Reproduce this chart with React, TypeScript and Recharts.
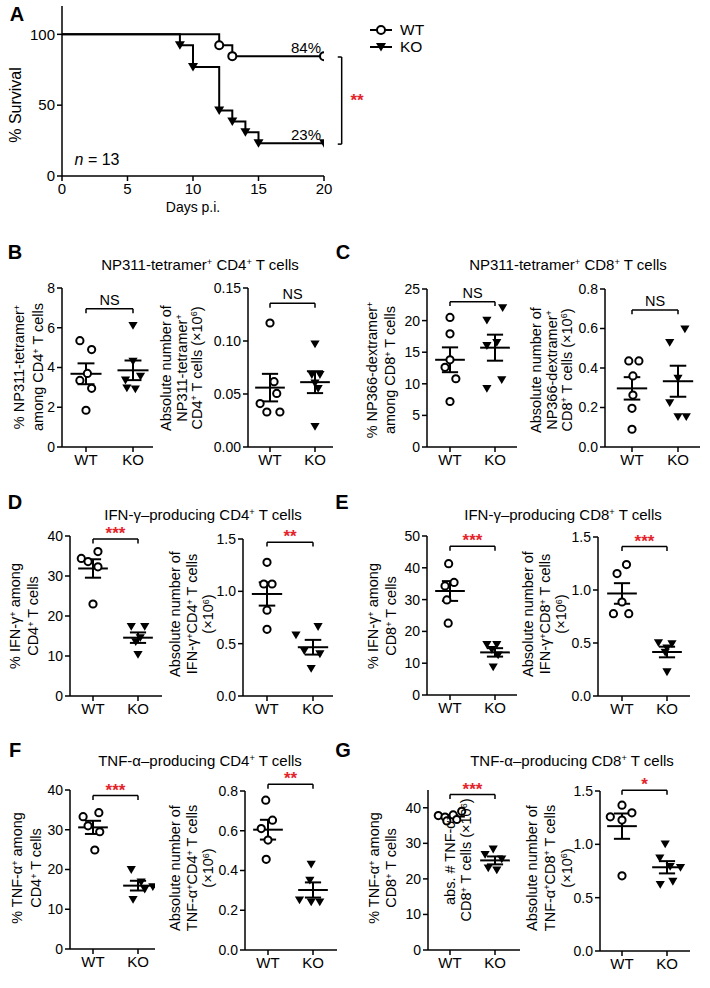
import React from 'react'
import { LineChart, Line, ScatterChart, Scatter, XAxis, YAxis, ReferenceLine } from 'recharts'

const FONT = '"Liberation Sans", Arial, Helvetica, sans-serif'
const RED = '#e3242b'

type Pt = [number, number]

// A: survival
const wtDays = [0, 12, 13, 20]
const wtSurvival = [100, 92.3, 84.6, 84.6]
const koDays = [0, 9, 10, 12, 13, 14, 15, 20]
const koSurvival = [100, 92.3, 76.9, 46.2, 38.5, 30.8, 23.1, 23.1]
const dayTicks = [0, 5, 10, 15, 20]
const survivalTicks = [0, 50, 100]

const groupLabels = ['WT', 'KO']

// B: NP311-tetramer+ CD4+  ([x with jitter, value])
const bPctWT: Pt[] = [[0.87, 5.35], [1.12, 4.9], [1.03, 3.7], [0.87, 3.35], [1.12, 2.95], [1.0, 1.85]]
const bPctKO: Pt[] = [[2.0, 6.1], [2.0, 4.3], [2.16, 3.55], [1.84, 3.35], [1.87, 2.95], [2.05, 2.9]]
const bAbsWT: Pt[] = [[1.0, 0.117], [1.09, 0.0616], [1.15, 0.0505], [0.78, 0.041], [0.93, 0.033], [1.22, 0.033]]
const bAbsKO: Pt[] = [[2.0, 0.097], [1.93, 0.068], [2.11, 0.068], [2.0, 0.06], [2.07, 0.055], [2.0, 0.019]]

// C: NP366-dextramer+ CD8+
const cPctWT: Pt[] = [[1.0, 20.5], [1.0, 17.9], [0.89, 12.6], [1.0, 13.8], [1.13, 10.8], [1.0, 7.2]]
const cPctKO: Pt[] = [[2.17, 22.0], [1.82, 20.0], [2.04, 16.5], [1.82, 16.0], [2.15, 10.6], [1.82, 9.2]]
const cAbsWT: Pt[] = [[0.93, 0.436], [1.15, 0.436], [1.02, 0.36], [1.02, 0.263], [1.0, 0.196], [1.0, 0.09]]
const cAbsKO: Pt[] = [[2.15, 0.596], [1.82, 0.528], [2.0, 0.347], [1.82, 0.223], [2.0, 0.152], [2.18, 0.152]]

// D: IFN-g CD4+
const dPctWT: Pt[] = [[0.74, 34.4], [1.11, 36.1], [0.89, 33.6], [1.11, 32.3], [1.0, 23.0]]
const dPctKO: Pt[] = [[1.85, 17.3], [2.15, 17.3], [2.05, 14.5], [1.95, 13.5], [2.0, 10.3]]
const dAbsWT: Pt[] = [[1.0, 1.277], [0.93, 1.07], [1.11, 1.07], [1.0, 0.82], [1.0, 0.637]]
const dAbsKO: Pt[] = [[1.63, 0.58], [2.11, 0.66], [1.81, 0.43], [2.15, 0.4], [1.96, 0.26]]

// E: IFN-g CD8+
const ePctWT: Pt[] = [[0.97, 41.3], [1.09, 35.4], [0.89, 34.3], [0.93, 29.9], [0.96, 22.6]]
const ePctKO: Pt[] = [[1.82, 15.8], [2.04, 15.8], [1.93, 14.2], [2.07, 12.5], [1.96, 8.7]]
const eAbsWT: Pt[] = [[1.1, 1.24], [0.89, 1.155], [1.0, 0.887], [0.81, 0.777], [1.15, 0.777]]
const eAbsKO: Pt[] = [[1.81, 0.5], [2.11, 0.49], [2.0, 0.45], [1.96, 0.41], [2.0, 0.225]]

// F: TNF-a CD4+
const fPctWT: Pt[] = [[0.78, 33.3], [1.13, 34.3], [0.89, 31.0], [1.15, 29.5], [1.04, 24.9]]
const fPctKO: Pt[] = [[1.85, 19.9], [2.07, 16.8], [2.33, 15.6], [2.15, 15.0], [1.89, 12.4]]
const fAbsWT: Pt[] = [[0.95, 0.754], [1.1, 0.653], [0.85, 0.611], [1.0, 0.553], [0.96, 0.456]]
const fAbsKO: Pt[] = [[1.96, 0.43], [1.93, 0.35], [1.7, 0.25], [1.96, 0.24], [2.15, 0.24]]

// G: TNF-a CD8+
const gPctWT: Pt[] = [[0.74, 37.8], [0.89, 37.4], [1.07, 38.0], [1.26, 39.0], [0.93, 36.3], [1.15, 36.7]]
const gPctKO: Pt[] = [[1.96, 28.3], [1.78, 26.8], [2.15, 25.5], [1.85, 23.0], [2.04, 22.4]]
const gAbsWT: Pt[] = [[1.0, 1.367], [1.22, 1.295], [0.74, 1.258], [1.0, 1.227], [1.0, 0.705]]
const gAbsKO: Pt[] = [[1.96, 1.0], [1.84, 0.87], [2.07, 0.79], [2.3, 0.78], [1.85, 0.62], [2.13, 0.65]]

const mean = (v: number[]) => v.reduce((a, b) => a + b, 0) / v.length
const sem = (v: number[]) => {
  const m = mean(v)
  const sd = Math.sqrt(v.reduce((a, b) => a + (b - m) ** 2, 0) / (v.length - 1))
  return sd / Math.sqrt(v.length)
}

// "^+" / "^6" -> superscript
function rt(s: string) {
  const parts = s.split(/\^(.)/)
  return parts.map((p, i) =>
    i % 2 === 1 ? (
      <sup key={i} style={{ fontSize: '0.62em', verticalAlign: '0.5em', lineHeight: 0 }}>{p}</sup>
    ) : (
      <React.Fragment key={i}>{p}</React.Fragment>
    )
  )
}

function Txt({ x, y, children, size = 15, color = '#000', weight = 400, italic = false }: any) {
  return (
    <div style={{ position: 'absolute', left: x, top: y, transform: 'translate(-50%,-50%)', whiteSpace: 'nowrap', fontSize: size, color, fontWeight: weight, fontStyle: italic ? 'italic' : 'normal', lineHeight: 1 }}>
      {children}
    </div>
  )
}

function VLabel({ x, y, lines, size = 14.5, lh = 17 }: { x: number; y: number; lines: string[]; size?: number; lh?: number }) {
  return (
    <div style={{ position: 'absolute', left: x, top: y, transform: 'translate(-50%,-50%) rotate(-90deg)', whiteSpace: 'nowrap', textAlign: 'center', fontSize: size, lineHeight: `${lh}px` }}>
      {lines.map((l, i) => <div key={i}>{rt(l)}</div>)}
    </div>
  )
}

const axisStyle = { stroke: '#000', strokeWidth: 1.5 }
const tickStyle = { fill: '#000', fontSize: 14, fontFamily: FONT }

const circleShape = (props: any) => (
  <circle cx={props.cx} cy={props.cy} r={3.6} fill="#fff" stroke="#000" strokeWidth={2} />
)
const triangleShape = (props: any) => {
  const { cx, cy } = props
  const s = 4.6
  return <path d={`M${cx - s},${cy - 3.8}L${cx + s},${cy - 3.8}L${cx},${cy + 4}Z`} fill="#000" />
}

interface DotPlotProps {
  wt: Pt[]
  ko: Pt[]
  max: number
  ticks: number[]
  decimals: number
  axisX: number
  axisEnd: number
  wtX: number
  koX: number
  topY: number
  zeroY: number
  bracket: number
  sig: string
}

function seg(k: string, x1: number, y1: number, x2: number, y2: number, extra: any = {}) {
  return (
    <ReferenceLine key={k} segment={[{ x: x1, y: y1 }, { x: x2, y: y2 }]} stroke="#000" strokeWidth={2} ifOverflow="visible" {...extra} />
  )
}

function DotPlot(p: DotPlotProps) {
  const YW = 50, MT = 30, MR = 20, XH = 30, MB = 5
  const plotW = p.axisEnd - p.axisX
  const plotH = p.zeroY - p.topY
  const unit = p.koX - p.wtX
  const d0 = 1 - (p.wtX - p.axisX) / unit
  const d1 = 1 + (p.axisEnd - p.wtX) / unit
  const wtData = p.wt.map(([x, y]) => ({ x, y }))
  const koData = p.ko.map(([x, y]) => ({ x, y }))
  const drop = p.max * 0.028
  const isNS = p.sig === 'NS'

  const stats = (c: number, vals: number[], k: string) => {
    const m = mean(vals)
    const s = sem(vals)
    return [
      seg(k + 'm', c - 0.33, m, c + 0.33, m),
      seg(k + 'v', c, m - s, c, m + s),
      seg(k + 't', c - 0.18, m + s, c + 0.18, m + s),
      seg(k + 'b', c - 0.18, m - s, c + 0.18, m - s),
    ]
  }

  return (
    <div style={{ position: 'absolute', left: p.axisX - YW, top: p.topY - MT }}>
      <ScatterChart width={YW + plotW + MR} height={MT + plotH + XH + MB} margin={{ top: MT, right: MR, bottom: MB, left: 0 }}>
        <XAxis
          type="number"
          dataKey="x"
          domain={[d0, d1]}
          ticks={[1, 2]}
          allowDataOverflow
          height={XH}
          tickFormatter={(v: number) => groupLabels[Math.round(v) - 1]}
          axisLine={axisStyle}
          tickLine={axisStyle}
          tickSize={5}
          tick={{ ...tickStyle, fontSize: 15 }}
        />
        <YAxis
          type="number"
          dataKey="y"
          domain={[0, p.max]}
          ticks={p.ticks}
          interval={0}
          allowDataOverflow
          width={YW}
          tickFormatter={(v: number) => v.toFixed(p.decimals)}
          axisLine={axisStyle}
          tickLine={axisStyle}
          tickSize={5}
          tickMargin={2}
          tick={tickStyle}
        />
        <Scatter data={wtData} shape={circleShape} isAnimationActive={false} />
        <Scatter data={koData} shape={triangleShape} isAnimationActive={false} />
        {stats(1, p.wt.map((d) => d[1]), 'w')}
        {stats(2, p.ko.map((d) => d[1]), 'k')}
        {seg('bh', 1, p.bracket, 2, p.bracket, {
          strokeWidth: 1.5,
          label: {
            value: p.sig,
            position: 'top',
            offset: isNS ? 4 : 0,
            fill: isNS ? '#000' : RED,
            fontSize: isNS ? 14.5 : 17,
            fontWeight: isNS ? 400 : 700,
            fontFamily: FONT,
          },
        })}
        {seg('bl', 1, p.bracket, 1, p.bracket - drop, { strokeWidth: 1.5 })}
        {seg('br', 2, p.bracket, 2, p.bracket - drop, { strokeWidth: 1.5 })}
      </ScatterChart>
    </div>
  )
}

const WtDot = (props: any) => {
  if (props.index === 0) return <g key={`w${props.index}`} />
  return <circle key={`w${props.index}`} cx={props.cx} cy={props.cy} r={4} fill="#fff" stroke="#000" strokeWidth={2} />
}
const KoDot = (props: any) => {
  if (props.index === 0) return <g key={`k${props.index}`} />
  const { cx, cy } = props
  return <path key={`k${props.index}`} d={`M${cx - 5},${cy - 4}L${cx + 5},${cy - 4}L${cx},${cy + 4.5}Z`} fill="#000" />
}

function SurvivalPlot() {
  const YW = 50, MT = 10, MR = 40, XH = 30, MB = 5
  const axisX = 62, axisEnd = 324, topY = 6, zeroY = 176
  const wtLine = wtDays.map((d, i) => ({ day: d, s: wtSurvival[i] }))
  const koLine = koDays.map((d, i) => ({ day: d, s: koSurvival[i] }))
  return (
    <div style={{ position: 'absolute', left: axisX - YW, top: topY - MT }}>
      <LineChart width={YW + axisEnd - axisX + MR} height={MT + zeroY - topY + XH + MB} margin={{ top: MT, right: MR, bottom: MB, left: 0 }}>
        <XAxis type="number" dataKey="day" domain={[0, 20]} ticks={dayTicks} allowDataOverflow height={XH} axisLine={axisStyle} tickLine={axisStyle} tickSize={5} tick={{ ...tickStyle, fontSize: 15 }} />
        <YAxis type="number" domain={[0, 120]} ticks={survivalTicks} interval={0} allowDataOverflow width={YW} axisLine={axisStyle} tickLine={axisStyle} tickSize={5} tickMargin={2} tick={{ ...tickStyle, fontSize: 15 }} />
        <Line data={koLine} dataKey="s" type="stepAfter" stroke="#000" strokeWidth={2} dot={KoDot} isAnimationActive={false} />
        <Line data={wtLine} dataKey="s" type="stepAfter" stroke="#000" strokeWidth={2} dot={WtDot} isAnimationActive={false} />
        {seg('sv', 21.35, 84.0, 21.35, 22.5, { strokeWidth: 1.5 })}
        {seg('st', 21.05, 84.0, 21.35, 84.0, { strokeWidth: 1.5 })}
        {seg('sb', 21.05, 22.5, 21.35, 22.5, { strokeWidth: 1.5 })}
      </LineChart>
    </div>
  )
}

function Legend() {
  return (
    <svg style={{ position: 'absolute', left: 366, top: 18 }} width={80} height={40}>
      <line x1={4} y1={12} x2={26} y2={12} stroke="#000" strokeWidth={2} />
      <circle cx={15} cy={12} r={4} fill="#fff" stroke="#000" strokeWidth={2} />
      <text x={34} y={17} fontSize={15.5} fontFamily={FONT}>WT</text>
      <line x1={4} y1={29} x2={26} y2={29} stroke="#000" strokeWidth={2} />
      <path d="M10,25L20,25L15,33.5Z" fill="#000" />
      <text x={34} y={34} fontSize={15.5} fontFamily={FONT}>KO</text>
    </svg>
  )
}

const t4 = [0, 2, 4, 6, 8]
const t15 = [0, 0.05, 0.1, 0.15]
const t25 = [0, 5, 10, 15, 20, 25]
const t08 = [0, 0.2, 0.4, 0.6, 0.8]
const t40 = [0, 10, 20, 30, 40]
const t50 = [0, 10, 20, 30, 40, 50]
const t1_5 = [0, 0.5, 1, 1.5]

export default function App() {
  return (
    <div style={{ position: 'absolute', left: 0, top: 0, width: 710, height: 988, background: '#fff', fontFamily: FONT, color: '#000', overflow: 'hidden' }}>
      {/* A */}
      <Txt x={17} y={14} size={20} weight={700}>A</Txt>
      <SurvivalPlot />
      <Legend />
      <VLabel x={15} y={105} lines={['% Survival']} size={16} />
      <Txt x={193} y={207} size={14}>Days p.i.</Txt>
      <Txt x={306} y={47} size={15}>84%</Txt>
      <Txt x={306} y={134} size={15}>23%</Txt>
      <Txt x={97} y={160} size={16}><i>n</i> = 13</Txt>
      <Txt x={357} y={100} size={17} weight={700} color={RED}>**</Txt>

      {/* B / C */}
      <Txt x={15} y={252} size={20} weight={700}>B</Txt>
      <Txt x={343} y={252} size={20} weight={700}>C</Txt>
      <Txt x={200} y={264}>{rt('NP311-tetramer^+ CD4^+ T cells')}</Txt>
      <Txt x={568} y={264}>{rt('NP311-tetramer^+ CD8^+ T cells')}</Txt>
      <DotPlot wt={bPctWT} ko={bPctKO} max={8} ticks={t4} decimals={0} axisX={62} axisEnd={153} wtX={86} koX={133} topY={288} zeroY={447} bracket={6.95} sig="NS" />
      <DotPlot wt={bAbsWT} ko={bAbsKO} max={0.15} ticks={t15} decimals={2} axisX={248} axisEnd={333} wtX={270} koX={315} topY={288} zeroY={447} bracket={0.1356} sig="NS" />
      <DotPlot wt={cPctWT} ko={cPctKO} max={25} ticks={t25} decimals={0} axisX={427} axisEnd={517} wtX={450} koX={495} topY={289} zeroY={447} bracket={23.0} sig="NS" />
      <DotPlot wt={cAbsWT} ko={cAbsKO} max={0.8} ticks={t08} decimals={1} axisX={605} axisEnd={700} wtX={632} koX={678} topY={289} zeroY={447} bracket={0.694} sig="NS" />
      <VLabel x={29} y={367} lines={['% NP311-tetramer^+', 'among CD4^+ T cells']} lh={19} />
      <VLabel x={182} y={368} lines={['Absolute number of', 'NP311-tetramer^+', 'CD4^+ T cells (×10^6)']} lh={15.5} />
      <VLabel x={381} y={370} lines={['% NP366-dextramer^+', 'among CD8^+ T cells']} lh={18} />
      <VLabel x={552} y={370} lines={['Absolute number of', 'NP366-dextramer^+', 'CD8^+ T cells (×10^6)']} lh={15.5} />

      {/* D / E */}
      <Txt x={15} y={502} size={20} weight={700}>D</Txt>
      <Txt x={342} y={502} size={20} weight={700}>E</Txt>
      <Txt x={203} y={514}>{rt('IFN-γ–producing CD4^+ T cells')}</Txt>
      <Txt x={563} y={514}>{rt('IFN-γ–producing CD8^+ T cells')}</Txt>
      <DotPlot wt={dPctWT} ko={dPctKO} max={40} ticks={t40} decimals={0} axisX={70} axisEnd={162} wtX={93} koX={138} topY={536} zeroY={696} bracket={39.25} sig="***" />
      <DotPlot wt={dAbsWT} ko={dAbsKO} max={1.5} ticks={t1_5} decimals={1} axisX={243} axisEnd={333} wtX={267} koX={313} topY={539} zeroY={696} bracket={1.47} sig="**" />
      <DotPlot wt={ePctWT} ko={ePctKO} max={50} ticks={t50} decimals={0} axisX={427} axisEnd={517} wtX={450} koX={495} topY={536} zeroY={695} bracket={46.8} sig="***" />
      <DotPlot wt={eAbsWT} ko={eAbsKO} max={1.5} ticks={t1_5} decimals={1} axisX={598} axisEnd={690} wtX={622} koX={667} topY={537} zeroY={696} bracket={1.41} sig="***" />
      <VLabel x={24} y={616} lines={['% IFN-γ^+ among', 'CD4^+ T cells']} lh={18} />
      <VLabel x={192} y={614} lines={['Absolute number of', 'IFN-γ^+CD4^+ T cells', '(×10^6)']} lh={16.5} />
      <VLabel x={382} y={616} lines={['% IFN-γ^+ among', 'CD8^+ T cells']} lh={18} />
      <VLabel x={545} y={614} lines={['Absolute number of', 'IFN-γ^+CD8^+ T cells', '(×10^6)']} lh={16.5} />

      {/* F / G */}
      <Txt x={15} y={750} size={20} weight={700}>F</Txt>
      <Txt x={343} y={750} size={20} weight={700}>G</Txt>
      <Txt x={200} y={759.5}>{rt('TNF-α–producing CD4^+ T cells')}</Txt>
      <Txt x={572} y={759.5}>{rt('TNF-α–producing CD8^+ T cells')}</Txt>
      <DotPlot wt={fPctWT} ko={fPctKO} max={40} ticks={t40} decimals={0} axisX={70} axisEnd={155} wtX={93} koX={138} topY={790} zeroY={949} bracket={38.6} sig="***" />
      <DotPlot wt={fAbsWT} ko={fAbsKO} max={0.8} ticks={t08} decimals={1} axisX={245} axisEnd={337} wtX={268} koX={313} topY={791} zeroY={950} bracket={0.834} sig="**" />
      <DotPlot wt={gPctWT} ko={gPctKO} max={45} ticks={t40} decimals={0} axisX={428} axisEnd={520} wtX={450} koX={495} topY={790} zeroY={950} bracket={43.7} sig="***" />
      <DotPlot wt={gAbsWT} ko={gAbsKO} max={1.5} ticks={t1_5} decimals={1} axisX={600} axisEnd={690} wtX={622} koX={667} topY={791} zeroY={951} bracket={1.506} sig="*" />
      <VLabel x={27} y={868} lines={['% TNF-α^+ among', 'CD4^+ T cells']} lh={19} />
      <VLabel x={192} y={868} lines={['Absolute number of', 'TNF-α^+CD4^+ T cells', '(×10^6)']} lh={16.5} />
      <VLabel x={383} y={868} lines={['% TNF-α^+ among', 'CD8^+ T cells']} lh={17} />
      <VLabel x={550} y={868} lines={['Absolute number of', 'TNF-α^+CD8^+ T cells', '(×10^6)']} lh={17.5} />
      <VLabel x={458} y={860} lines={['abs. # TNF-α^+', 'CD8^+ T cells (×10^6)']} lh={16} />
    </div>
  )
}
